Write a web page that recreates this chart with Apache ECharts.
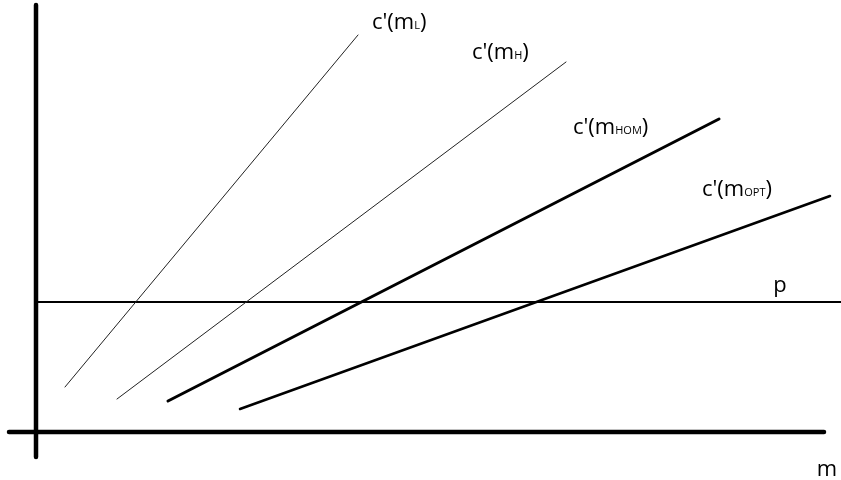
<!DOCTYPE html>
<html>
<head>
<meta charset="utf-8">
<script src="https://cdn.jsdelivr.net/npm/echarts@6/dist/echarts.min.js"></script>
<style>
  html, body { margin: 0; padding: 0; background: #fff; }
  #main { width: 841px; height: 480px; }
</style>
</head>
<body>
<div id="main"></div>
<script>
// origin of the sketch = where the two axes cross
var axisY = [[0, -25], [0, 427]];
var axisX = [[-27, 0], [788, 0]];
var priceLine = [[0, 130], [805, 130]];
var mL = [[29, 45], [322, 397]];
var mH = [[81, 33], [530, 370]];
var mHOM = [[132, 31], [683, 313]];
var mOPT = [[204, 23], [794, 236]];

var font = '"Open Sans", "Liberation Sans", sans-serif';
var rich = {
  main: { fontSize: 22, fontFamily: font, color: '#000', verticalAlign: 'bottom' },
  sub: { fontSize: 11, fontFamily: font, color: '#000', verticalAlign: 'bottom', padding: [0, 0, 3, 0] }
};

function curveLabel(sub, offset) {
  return {
    show: true,
    distance: 0,
    offset: offset,
    align: 'left',
    formatter: "{main|c'(m}{sub|" + sub + "}{main|)}",
    rich: rich
  };
}

function seg(name, data, width, color, label) {
  return {
    name: name,
    type: 'line',
    data: data,
    symbol: 'none',
    silent: true,
    lineStyle: { width: width, color: color, cap: 'round' },
    endLabel: label || { show: false }
  };
}

var chart = echarts.init(document.getElementById('main'));
chart.setOption({
  animation: false,
  backgroundColor: '#fff',
  grid: { left: 0, right: 0, top: 0, bottom: 0 },
  xAxis: { type: 'value', min: -36, max: 805, show: false },
  yAxis: { type: 'value', min: -48, max: 432, show: false },
  series: [
    seg('axisY', axisY, 4.5, '#000'),
    seg('axisX', axisX, 4.5, '#000', {
      show: true, distance: 0, align: 'center', offset: [3, 38],
      formatter: 'm', fontSize: 22, fontFamily: font, color: '#000'
    }),
    seg('p', priceLine, 2, '#000', {
      show: true, distance: 0, align: 'center', offset: [-61, -16],
      formatter: 'p', fontSize: 22, fontFamily: font, color: '#000'
    }),
    seg('mL', mL, 1, '#222', curveLabel('L', [14, -12])),
    seg('mH', mH, 1, '#222', curveLabel('H', [-94, -9])),
    seg('mHOM', mHOM, 3, '#000', curveLabel('HOM', [-146, 9])),
    seg('mOPT', mOPT, 2.5, '#000', curveLabel('OPT', [-128, -6]))
  ]
});
</script>
</body>
</html>
